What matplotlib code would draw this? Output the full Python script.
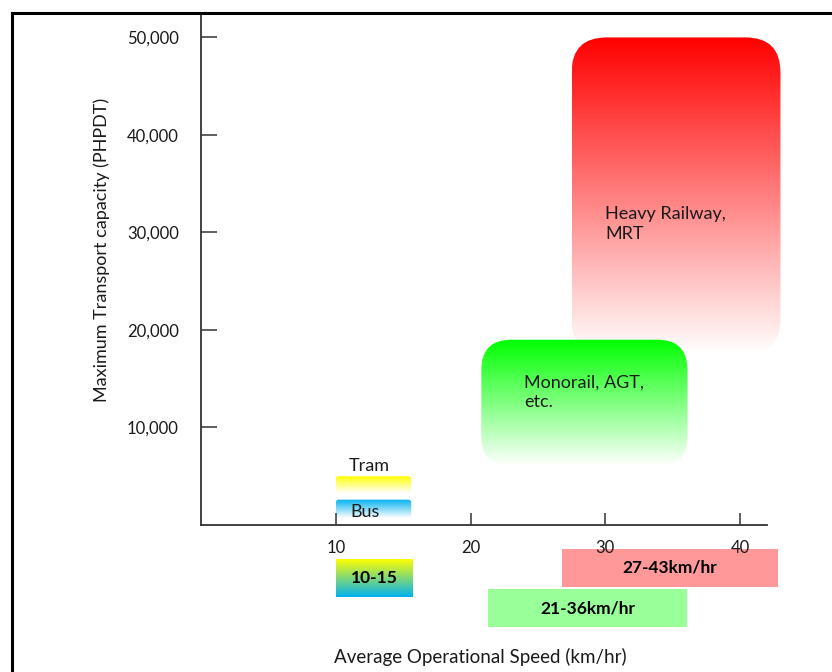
import matplotlib
matplotlib.use("Agg")
import matplotlib.pyplot as plt
import matplotlib.transforms as mtransforms
from matplotlib.patches import FancyBboxPatch, Rectangle
from matplotlib.colors import LinearSegmentedColormap
import numpy as np

plt.rcParams["font.family"] = ["Lato", "DejaVu Sans"]

# Dati: ogni modo di trasporto -> velocità (km/h) e capacità (PHPDT)
modi = ["Heavy Railway,\nMRT", "Monorail, AGT,\netc.", "Tram", "Bus"]
vel_min = [27.5, 20.8, 10.0, 10.0]
vel_max = [43.0, 36.1, 15.6, 15.6]
cap_min = [17500, 6000, 3300, 700]
cap_max = [50000, 19000, 5000, 2600]
colori_top = ["#ff0000", "#00ff00", "#ffff00", "#00b0f0"]

# fasce di velocità sotto l'asse
fasce = ["27-43km/hr", "21-36km/hr"]
fasce_min = [26.8, 21.3]
fasce_max = [42.8, 36.1]
fasce_col = ["#ff9999", "#99ff99"]
bus_tram_label = "10-15"
bus_tram_range = [10.0, 15.7]

xticks = [10, 20, 30, 40]
yticks = [10000, 20000, 30000, 40000, 50000]

fig = plt.figure(figsize=(8.32, 6.72), dpi=100)
ax = fig.add_axes([201 / 832, 1 - 525 / 672, 566 / 832, 510 / 672])
ax.set_xlim(0, 42.0)
ax.set_ylim(0, 52300)

# bordo esterno
fig.add_artist(plt.Line2D([12 / 832, 12 / 832], [0, 1 - 13 / 672], color="black", lw=2.2))
fig.add_artist(plt.Line2D([12 / 832, 1], [1 - 13 / 672, 1 - 13 / 672], color="black", lw=2.2))

# rapporto pixel per arrotondare gli angoli
asp = (52300 / 510) / (42.0 / 566)


def box_gradiente(x0, x1, y0, y1, c_top, c_bot, r_px):
    r = r_px * 42.0 / 566
    patch = FancyBboxPatch((x0, y0), x1 - x0, y1 - y0,
                           boxstyle=f"round,pad=0,rounding_size={r}",
                           mutation_aspect=asp, fc="none", ec="none")
    ax.add_patch(patch)
    patch.set_clip_on(False)
    cmap = LinearSegmentedColormap.from_list("g", [c_bot, c_top])
    grad = np.linspace(0, 1, 256).reshape(-1, 1)
    im = ax.imshow(grad, cmap=cmap, extent=[x0, x1, y0, y1], origin="lower",
                   aspect="auto", interpolation="bilinear", zorder=1)
    im.set_clip_path(patch)
    im.set_clip_box(fig.bbox)


raggi = [35, 30, 3, 3]
for i in range(len(modi)):
    box_gradiente(vel_min[i], vel_max[i], cap_min[i], cap_max[i],
                  colori_top[i], "#ffffff", raggi[i])

ax.set_xlim(0, 42.0)
ax.set_ylim(0, 52300)

txt = dict(fontsize=13, color="#1a1a1a", zorder=3)
ax.text(30.0, 30900, modi[0], ha="left", va="center", linespacing=1.3, **txt)
ax.text(24.0, 13600, modi[1], ha="left", va="center", linespacing=1.3, **txt)
ax.text(11.0, 6050, modi[2], ha="left", va="center", **txt)
ax.text(11.05, 1350, modi[3], ha="left", va="center", **txt)

# fasce sotto l'asse x (coordinate x dati, y frazione di assi)
tr = mtransforms.blended_transform_factory(ax.transData, ax.transAxes)
fasce_y = [(-0.1216, -0.047), (-0.2, -0.1255)]
for i in range(len(fasce)):
    y0, y1 = fasce_y[i]
    ax.add_patch(Rectangle((fasce_min[i], y0), fasce_max[i] - fasce_min[i], y1 - y0,
                           transform=tr, fc=fasce_col[i], ec="none", clip_on=False))
    ax.text((fasce_min[i] + fasce_max[i]) / 2, (y0 + y1) / 2, fasce[i], transform=tr,
            ha="center", va="center", fontsize=12.5, fontweight="bold", color="black")

cmap_bt = LinearSegmentedColormap.from_list("bt", ["#00b0f0", "#ffff00"])
grad = np.linspace(0, 1, 256).reshape(-1, 1)
im = ax.imshow(grad, cmap=cmap_bt, origin="lower", aspect="auto",
               extent=[bus_tram_range[0], bus_tram_range[1], -0.141, -0.0667],
               transform=tr, interpolation="bilinear")
im.set_clip_box(fig.bbox)
ax.text(sum(bus_tram_range) / 2, (-0.141 - 0.0667) / 2, bus_tram_label, transform=tr,
        ha="center", va="center", fontsize=12.5, fontweight="bold", color="black")

ax.set_xlim(0, 42.0)
ax.set_ylim(0, 52300)

# assi
for s in ["top", "right"]:
    ax.spines[s].set_visible(False)
for s in ["left", "bottom"]:
    ax.spines[s].set_color("#333333")
    ax.spines[s].set_linewidth(1.3)
ax.set_xticks(xticks)
ax.set_yticks(yticks)
ax.set_yticklabels([f"{v:,}" for v in yticks])
ax.tick_params(axis="y", direction="in", length=11.5, width=1.1, pad=16,
               labelsize=12, colors="#333333", labelcolor="#1a1a1a")
ax.tick_params(axis="x", direction="in", length=8.5, width=1.1, pad=11,
               labelsize=12, colors="#333333", labelcolor="#1a1a1a")

fig.text(480 / 832, 1 - 657 / 672, "Average Operational Speed (km/hr)",
         ha="center", va="center", fontsize=13.5, color="#1a1a1a")
fig.text(102 / 832, 1 - 250 / 672, "Maximum Transport capacity (PHPDT)",
         ha="center", va="center", rotation=90, fontsize=13, color="#1a1a1a")

fig.savefig("out.png", dpi=100)
